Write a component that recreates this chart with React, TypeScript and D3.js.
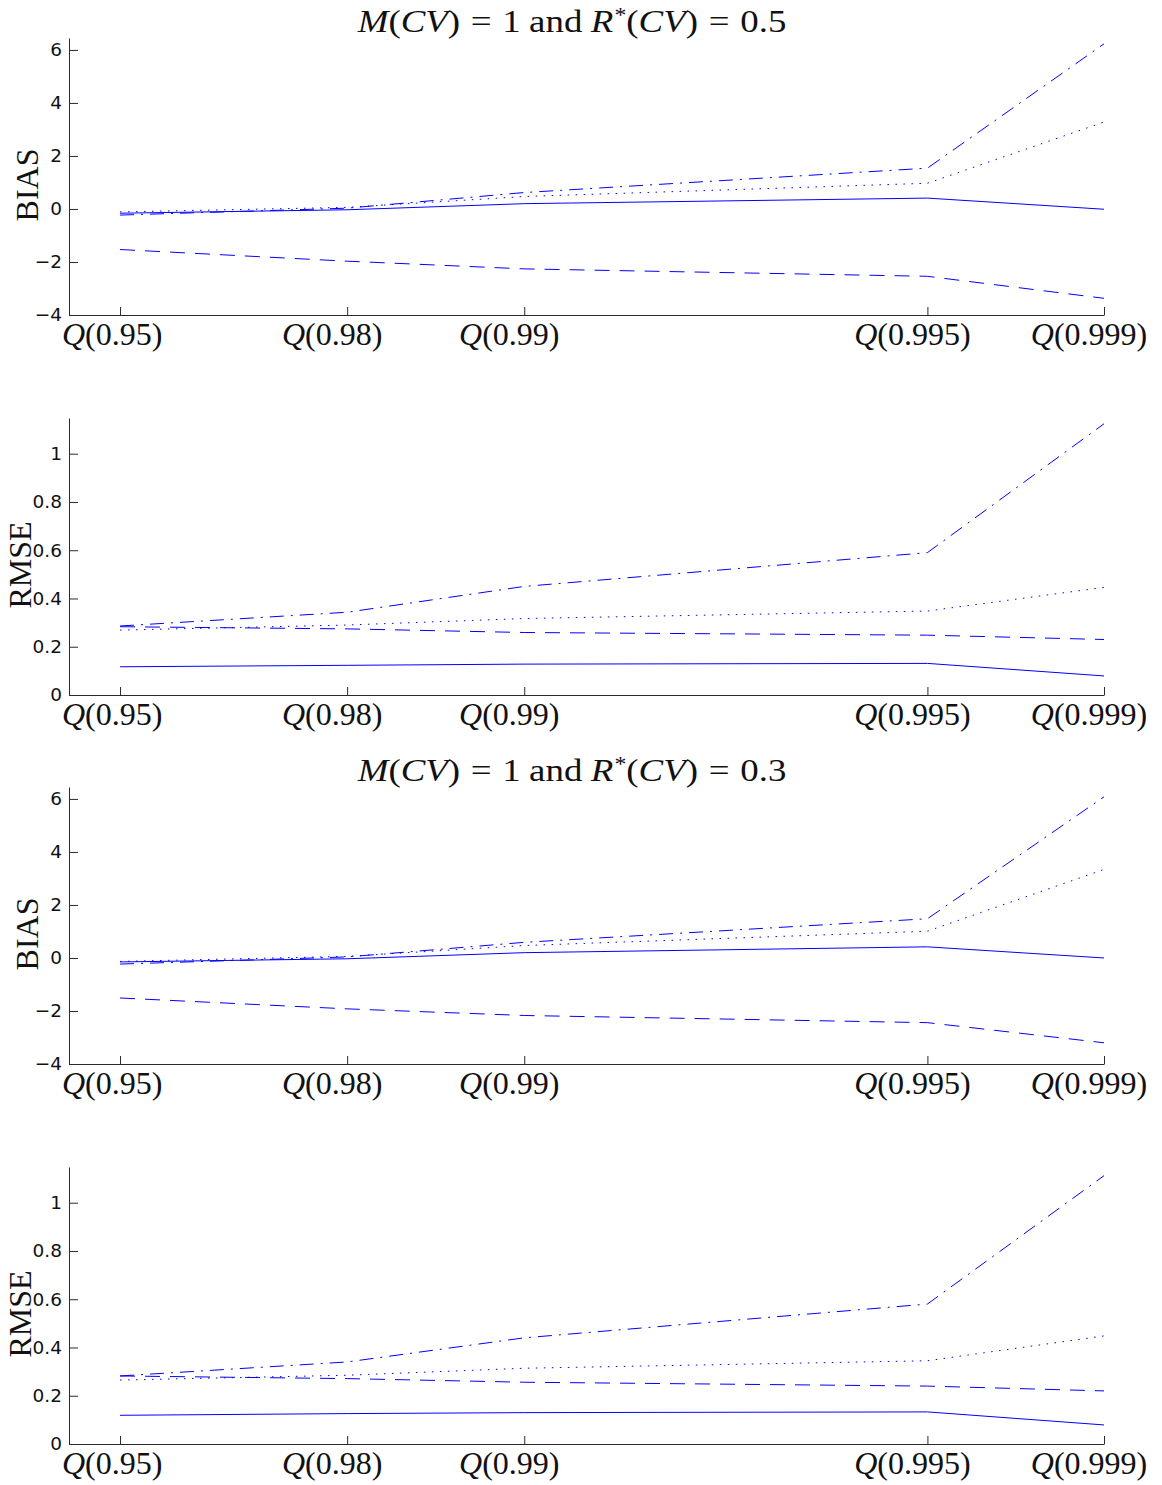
import React, { useEffect, useRef } from "react";
import * as d3 from "d3";

// ---- data ----
const QUANTILE_LEVELS = ["0.95", "0.98", "0.99", "0.995", "0.999"];
// horizontal plotting position of each quantile (arbitrary units, as in the figure)
const QUANTILE_POSITIONS = [1.0, 5.45, 8.92, 16.82, 20.28];
const X_DOMAIN = [0, 20.28];

const BIAS_TICKS = [-4, -2, 0, 2, 4, 6];
const BIAS_TICK_LABELS = ["\u22124", "\u22122", "0", "2", "4", "6"];
const BIAS_DOMAIN = [-4, 6.45];

const RMSE_TICKS = [0, 0.2, 0.4, 0.6, 0.8, 1];
const RMSE_TICK_LABELS = ["0", "0.2", "0.4", "0.6", "0.8", "1"];
const RMSE_DOMAIN = [0, 1.148];

const M_CV = "1";
const R_CV_VALUES = ["0.5", "0.3"];

// R*(CV) = 0.5
const BIAS_05_SOLID = [-0.16, -0.03, 0.2, 0.41, -0.01];
const BIAS_05_DASHED = [-1.53, -1.97, -2.26, -2.54, -3.37];
const BIAS_05_DOTTED = [-0.11, 0.06, 0.47, 0.97, 3.28];
const BIAS_05_DASHDOT = [-0.23, 0.03, 0.62, 1.54, 6.23];

const RMSE_05_SOLID = [0.117, 0.123, 0.128, 0.131, 0.079];
const RMSE_05_DASHED = [0.283, 0.274, 0.259, 0.248, 0.23];
const RMSE_05_DOTTED = [0.269, 0.29, 0.317, 0.348, 0.446];
const RMSE_05_DASHDOT = [0.286, 0.343, 0.45, 0.59, 1.124];

// R*(CV) = 0.3
const BIAS_03_SOLID = [-0.15, -0.03, 0.2, 0.42, 0.0];
const BIAS_03_DASHED = [-1.51, -1.92, -2.17, -2.44, -3.2];
const BIAS_03_DOTTED = [-0.13, 0.06, 0.47, 1.01, 3.34];
const BIAS_03_DASHDOT = [-0.23, 0.04, 0.59, 1.48, 6.08];

const RMSE_03_SOLID = [0.119, 0.126, 0.13, 0.133, 0.079];
const RMSE_03_DASHED = [0.282, 0.271, 0.256, 0.24, 0.22];
const RMSE_03_DOTTED = [0.265, 0.285, 0.314, 0.345, 0.448];
const RMSE_03_DASHDOT = [0.282, 0.34, 0.44, 0.58, 1.112];

// ---- styles ----
const LINE_DASHES = [null, "15,10", "1.5,6.5", "14,7,2,7"];
const LINE_COLOR = "#0000ff";
const AXIS_COLOR = "#2a2a2a";
const PANEL_TOPS = [38, 418, 787, 1167];
const PANEL_H = 277;
const X_LEFT = 69;
const X_RIGHT = 1104;

export default function App() {
  const ref = useRef<SVGSVGElement>(null);

  useEffect(() => {
    const panels = [
      { kind: "BIAS", title: R_CV_VALUES[0], domain: BIAS_DOMAIN, ticks: BIAS_TICKS, labels: BIAS_TICK_LABELS,
        series: [BIAS_05_SOLID, BIAS_05_DASHED, BIAS_05_DOTTED, BIAS_05_DASHDOT], lx: 38 },
      { kind: "RMSE", title: null, domain: RMSE_DOMAIN, ticks: RMSE_TICKS, labels: RMSE_TICK_LABELS,
        series: [RMSE_05_SOLID, RMSE_05_DASHED, RMSE_05_DOTTED, RMSE_05_DASHDOT], lx: 31 },
      { kind: "BIAS", title: R_CV_VALUES[1], domain: BIAS_DOMAIN, ticks: BIAS_TICKS, labels: BIAS_TICK_LABELS,
        series: [BIAS_03_SOLID, BIAS_03_DASHED, BIAS_03_DOTTED, BIAS_03_DASHDOT], lx: 38 },
      { kind: "RMSE", title: null, domain: RMSE_DOMAIN, ticks: RMSE_TICKS, labels: RMSE_TICK_LABELS,
        series: [RMSE_03_SOLID, RMSE_03_DASHED, RMSE_03_DOTTED, RMSE_03_DASHDOT], lx: 31 },
    ];

    const svg = d3.select(ref.current);
    svg.selectAll("*").remove();

    panels.forEach((p, i) => {
      const top = PANEL_TOPS[i];
      const bottom = top + PANEL_H;
      const x = d3.scaleLinear().domain(X_DOMAIN).range([X_LEFT, X_RIGHT]);
      const y = d3.scaleLinear().domain(p.domain).range([bottom, top]);
      const g = svg.append("g");

      const line = d3
        .line<number>()
        .x((_d, j) => x(QUANTILE_POSITIONS[j]))
        .y((d) => y(d));

      p.series.forEach((vals, k) => {
        const path = g
          .append("path")
          .attr("d", line(vals))
          .attr("fill", "none")
          .attr("stroke", LINE_COLOR)
          .attr("stroke-width", 1);
        if (LINE_DASHES[k]) path.attr("stroke-dasharray", LINE_DASHES[k]);
      });

      // y axis
      const ya = g
        .append("g")
        .attr("transform", `translate(${X_LEFT},0)`)
        .call(
          d3
            .axisLeft(y)
            .tickValues(p.ticks)
            .tickFormat((_d, j) => p.labels[j])
            .tickSizeInner(-9)
            .tickSizeOuter(0)
            .tickPadding(7)
        );
      ya.select(".domain").attr("stroke", AXIS_COLOR);
      ya.selectAll(".tick line").attr("stroke", AXIS_COLOR);
      ya.selectAll(".tick text")
        .attr("font-family", "'DejaVu Sans', sans-serif")
        .attr("font-size", 18.5)
        .attr("fill", "#111");

      // x axis
      const xa = g
        .append("g")
        .attr("transform", `translate(0,${bottom})`)
        .call(
          d3
            .axisBottom(x)
            .tickValues(QUANTILE_POSITIONS)
            .tickFormat(() => "")
            .tickSizeInner(-8)
            .tickSizeOuter(0)
        );
      xa.select(".domain").attr("stroke", AXIS_COLOR);
      xa.selectAll(".tick line").attr("stroke", AXIS_COLOR);

      // x tick labels  Q(p)
      QUANTILE_LEVELS.forEach((lev, j) => {
        const t = g
          .append("text")
          .attr("y", bottom + 30)
          .attr("font-family", "'Liberation Serif', serif")
          .attr("font-size", 32)
          .attr("fill", "#111");
        t.append("tspan").attr("font-style", "italic").text("Q");
        t.append("tspan").text(`(${lev})`);
        const w = (t.node() as SVGTextElement).getComputedTextLength();
        let cx = x(QUANTILE_POSITIONS[j]) - 15;
        if (cx - w / 2 < 62) cx = 62 + w / 2;
        t.attr("x", cx - w / 2);
      });

      // y label
      g.append("text")
        .attr("transform", `translate(${p.lx},${(top + bottom) / 2 + 8.5}) rotate(-90)`)
        .attr("text-anchor", "middle")
        .attr("font-family", "'Liberation Serif', serif")
        .attr("font-size", 32)
        .attr("fill", "#111")
        .text(p.kind);

      // title
      if (p.title) {
        const tt = g
          .append("text")
          .attr("font-family", "'Liberation Serif', serif")
          .attr("font-size", 31)
          .attr("fill", "#111");
        const it = (s: string, dx = 0) =>
          tt.append("tspan").attr("font-style", "italic").attr("dx", dx).text(s);
        const rm = (s: string, dx = 0) => tt.append("tspan").attr("dx", dx).text(s);
        it("M");
        rm("(");
        it("CV");
        rm(")");
        rm("=", 9);
        rm("1", 9);
        rm("and", 7);
        it("R", 7);
        tt.append("tspan").attr("font-size", 20).attr("dy", -10).attr("dx", 1).text("*");
        tt.append("tspan").attr("dy", 10).text("(");
        it("CV");
        rm(")");
        rm("=", 9);
        rm(p.title, 9);
        const node = tt.node() as SVGTextElement;
        const bb = node.getBBox();
        const target = 430;
        const s = target / bb.width;
        tt.attr(
          "transform",
          `translate(${571.5 - target / 2},${top - 6}) scale(${s},1) translate(${-bb.x},0)`
        );
      }
    });
  }, []);

  return (
    <svg
      ref={ref}
      width={1162}
      height={1485}
      style={{ position: "absolute", left: 0, top: 0, background: "#fff", display: "block" }}
    />
  );
}
